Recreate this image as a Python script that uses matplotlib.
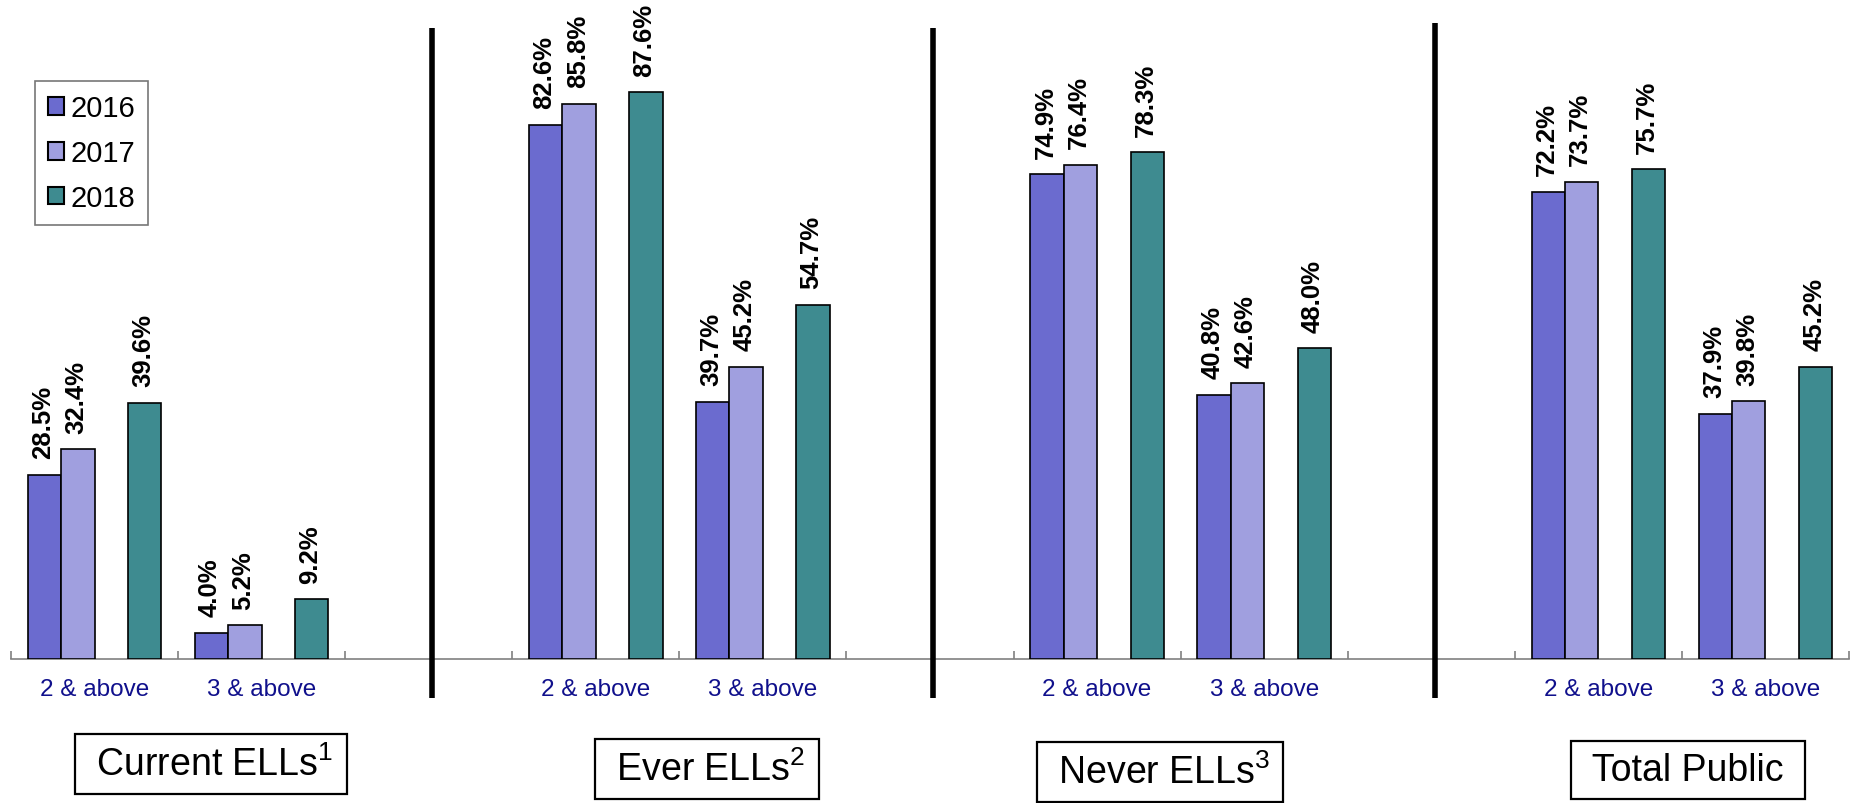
import numpy as np
import matplotlib.pyplot as plt

plt.rcParams['font.family'] = ['Liberation Sans', 'DejaVu Sans']
plt.rcParams['mathtext.fontset'] = 'custom'
plt.rcParams['mathtext.rm'] = 'Liberation Sans'
plt.rcParams['mathtext.default'] = 'regular'

years = ['2016', '2017', '2018']
groups = ['Current ELLs$^1$', 'Ever ELLs$^2$', 'Never ELLs$^3$', 'Total Public']
levels = ['2 & above', '3 & above']

# values per group: [2 & above, 3 & above]
v2016 = [[28.5, 4.0], [82.6, 39.7], [74.9, 40.8], [72.2, 37.9]]
v2017 = [[32.4, 5.2], [85.8, 45.2], [76.4, 42.6], [73.7, 39.8]]
v2018 = [[39.6, 9.2], [87.6, 54.7], [78.3, 48.0], [75.7, 45.2]]

colors = ['#6B6BCF', '#A09FDF', '#3E8B90']

# 11 category slots: 2 per group with an empty slot between groups
slots = []
for g in range(len(groups)):
    for l in range(len(levels)):
        slots.append(g * 3 + l)
slots = np.array(slots)

W, H = 1856, 804
fig = plt.figure(figsize=(W / 100, H / 100), dpi=100)
ax = fig.add_axes([11 / W, 1 - 660 / H, (1849 - 11) / W, 647 / H])

bw = 0.2
offsets = [-0.3, -0.1, 0.3]
series = [v2016, v2017, v2018]
for i, vals in enumerate(series):
    flat = np.array(vals).ravel()
    bars = ax.bar(slots + offsets[i], flat, width=bw, color=colors[i],
                  edgecolor='black', linewidth=1.2, label=years[i], zorder=3)
    for b, v in zip(bars, flat):
        ax.annotate('%.1f%%' % v, (b.get_x() + b.get_width() / 2, v),
                    xytext=(-1, 12), textcoords='offset points',
                    ha='center', va='bottom', rotation=90,
                    fontsize=18.5, fontweight='bold', annotation_clip=False)

ax.set_xlim(-0.5, 10.5)
ax.set_ylim(0, 100)

for s in ['left', 'right', 'top']:
    ax.spines[s].set_visible(False)
ax.spines['bottom'].set_color('#808080')
ax.spines['bottom'].set_linewidth(1.2)
ax.set_yticks([])

ax.set_xticks(slots)
ax.set_xticklabels(levels * len(groups), color='#10108C', fontsize=17.5)
ax.tick_params(axis='x', which='major', length=0, pad=14)
ax.set_xticks(np.arange(-0.5, 11, 1), minor=True)
ax.tick_params(axis='x', which='minor', direction='in', length=6,
               color='#808080', width=1.2)

# thick divider lines between groups
div_top = [1 - 16 / 647, 1 - 16 / 647, 1 - 11 / 647]
for k, x in enumerate([2, 5, 8]):
    ax.plot([x + 0.02, x + 0.02], [-0.06, div_top[k]], color='black', lw=4,
            transform=ax.get_xaxis_transform(), clip_on=False, zorder=4,
            solid_capstyle='butt')

# boxed group titles
title_pos = [(211, 765), (707, 770), (1160, 773), (1688, 771)]
for name, (px, py) in zip(groups, title_pos):
    fig.text(px / W, 1 - py / H, ' ' + name + ' ', fontsize=27,
             ha='center', va='center',
             bbox=dict(boxstyle='square,pad=0.3', facecolor='white',
                       edgecolor='black', linewidth=1.6))

leg = fig.legend(loc='upper left', bbox_to_anchor=(35 / W, 1 - 82 / H),
                 fontsize=21, frameon=True, fancybox=False, shadow=False,
                 handlelength=0.55, handleheight=0.55, handletextpad=0.2,
                 labelspacing=0.58, borderpad=0.45, borderaxespad=0)
leg.get_frame().set_edgecolor('#555555')
leg.get_frame().set_linewidth(1.2)
for p in leg.get_patches():
    p.set_linewidth(1.5)

fig.savefig('out.png', dpi=100)
